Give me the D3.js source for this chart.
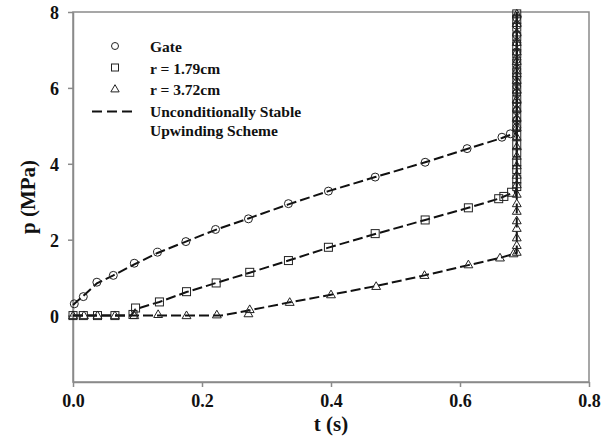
<!DOCTYPE html>
<html>
<head>
<meta charset="utf-8">
<script src="https://cdn.jsdelivr.net/npm/d3@7"></script>
<style>
  body { margin: 0; background: #fff; }
  text { font-family: "Liberation Serif", "Times New Roman", serif; font-weight: bold; fill: #111; }
</style>
</head>
<body>
<div id="chart"></div>
<script>
// measured points, [t (s), p (MPa)]
const gatePts = [[0.002,0.31],[0.016,0.50],[0.037,0.88],[0.0625,1.06],[0.095,1.38],[0.131,1.67],[0.175,1.95],
  [0.221,2.27],[0.272,2.55],[0.334,2.95],[0.396,3.28],[0.4685,3.65],[0.546,4.04],[0.611,4.40],[0.665,4.70],[0.678,4.79],
  [0.688,4.95],[0.688,5.15],[0.688,5.4],[0.688,5.6],[0.688,5.85],[0.688,6.05],[0.688,6.3],[0.688,6.5],[0.688,6.75],
  [0.688,6.95],[0.688,7.2],[0.688,7.4],[0.688,7.65],[0.688,7.85]];
const r179Pts = [[0.0,0.0],[0.016,0.0],[0.038,0.0],[0.065,0.0],[0.093,0.03],[0.097,0.2],[0.134,0.36],[0.176,0.63],
  [0.222,0.86],[0.274,1.14],[0.334,1.45],[0.396,1.8],[0.4685,2.16],[0.546,2.52],[0.613,2.84],[0.66,3.08],[0.668,3.14],[0.68,3.25],
  [0.688,3.4],[0.688,3.6],[0.688,3.85],[0.688,4.05],[0.688,4.3],[0.688,4.5],[0.688,4.75],[0.688,5.0],[0.688,5.25],[0.688,5.5],
  [0.688,5.7],[0.688,5.95],[0.688,6.2],[0.688,6.4],[0.688,6.65],[0.688,6.9],[0.688,7.1],[0.688,7.35],[0.688,7.6],[0.688,7.8],[0.688,7.95]];
const r372Pts = [[0.0,0.0],[0.017,0.0],[0.038,0.0],[0.065,0.0],[0.095,0.0],[0.132,0.03],[0.176,0.0],[0.223,0.02],
  [0.272,0.05],[0.274,0.16],[0.336,0.35],[0.4,0.55],[0.47,0.77],[0.545,1.06],[0.613,1.34],[0.662,1.52],[0.683,1.63],[0.688,1.67],
  [0.688,1.85],[0.688,2.05],[0.688,2.3],[0.688,2.5],[0.688,2.75],[0.688,2.95],[0.688,3.2],[0.688,3.45],[0.688,3.7],[0.688,3.95],
  [0.688,4.2],[0.688,4.45],[0.688,4.7],[0.688,4.95],[0.688,5.2],[0.688,5.45],[0.688,5.7],[0.688,5.95],[0.688,6.2],[0.688,6.45],
  [0.688,6.7],[0.688,6.95],[0.688,7.2],[0.688,7.45],[0.688,7.7],[0.688,7.95]];

// upwinding scheme curves
const gateLine = [[0.0,0.28],[0.016,0.52],[0.037,0.85],[0.0625,1.06],[0.095,1.35],[0.131,1.65],[0.175,1.95],[0.221,2.26],
  [0.272,2.56],[0.334,2.93],[0.396,3.28],[0.4685,3.65],[0.546,4.04],[0.611,4.39],[0.665,4.68],[0.688,4.82],[0.688,8.0]];
const r179Line = [[0.0,0.0],[0.09,0.0],[0.097,0.17],[0.134,0.36],[0.176,0.62],[0.222,0.86],[0.274,1.13],[0.334,1.45],
  [0.396,1.79],[0.4685,2.15],[0.546,2.52],[0.613,2.84],[0.66,3.08],[0.688,3.28],[0.688,8.0]];
const r372Line = [[0.0,0.0],[0.23,0.0],[0.274,0.14],[0.336,0.35],[0.4,0.55],[0.47,0.78],[0.545,1.06],[0.613,1.33],
  [0.662,1.52],[0.688,1.65],[0.688,8.0]];

const xTicks = [0, 0.2, 0.4, 0.6, 0.8];
const yTicks = [0, 2, 4, 6, 8];
const legendLabels = ["Gate", "r = 1.79cm", "r = 3.72cm", "Unconditionally Stable", "Upwinding Scheme"];

const W = 616, H = 447;
const margin = {top: 12, right: 27, bottom: 65, left: 73};

const svg = d3.select("#chart").append("svg")
  .attr("width", W).attr("height", H);

const x = d3.scaleLinear().domain([0, 0.8]).range([margin.left, W - margin.right]);
const y = d3.scaleLinear().domain([-1.75, 8]).range([H - margin.bottom, margin.top]);

// frame
svg.append("rect")
  .attr("x", x(0)).attr("y", y(8))
  .attr("width", x(0.8) - x(0)).attr("height", y(-1.75) - y(8))
  .attr("fill", "none").attr("stroke", "#8a8a8a").attr("stroke-width", 1.5);

// axes
const xAxis = svg.append("g")
  .attr("transform", `translate(0,${y(-1.75)})`)
  .call(d3.axisBottom(x).tickValues(xTicks).tickFormat(d3.format(".1f")).tickSizeInner(5).tickSizeOuter(0).tickPadding(7));
const yAxis = svg.append("g")
  .attr("transform", `translate(${x(0)},0)`)
  .call(d3.axisLeft(y).tickValues(yTicks).tickFormat(d3.format("d")).tickSizeInner(5).tickSizeOuter(0).tickPadding(9));
[xAxis, yAxis].forEach(g => {
  g.select(".domain").attr("stroke", "#8a8a8a").attr("stroke-width", 1.5);
  g.selectAll(".tick line").attr("stroke", "#8a8a8a").attr("stroke-width", 1.5);
  g.selectAll(".tick text").attr("font-size", 18).attr("fill", "#111")
    .attr("font-family", "Liberation Serif, serif").attr("font-weight", "bold");
});
yAxis.selectAll(".tick text").attr("dy", "0.36em");

// axis titles
svg.append("text")
  .attr("x", (x(0) + x(0.8)) / 2).attr("y", 431)
  .attr("text-anchor", "middle").attr("font-size", 21)
  .text("t (s)");
svg.append("text")
  .attr("transform", `translate(35,${(y(8) + y(-1.75)) / 2}) rotate(-90)`)
  .attr("text-anchor", "middle").attr("font-size", 21)
  .text("p (MPa)");

// dashed lines
const line = d3.line().x(d => x(d[0])).y(d => y(d[1]));
[gateLine, r179Line, r372Line].forEach(dat => {
  svg.append("path")
    .attr("d", line(dat))
    .attr("fill", "none").attr("stroke", "#111").attr("stroke-width", 2)
    .attr("stroke-dasharray", "10,4");
});

// markers
const mk = {stroke: "#222", sw: 1};
svg.append("g").selectAll("circle").data(gatePts).join("circle")
  .attr("cx", d => x(d[0])).attr("cy", d => y(d[1])).attr("r", 4)
  .attr("fill", "none").attr("stroke", mk.stroke).attr("stroke-width", mk.sw);
svg.append("g").selectAll("rect").data(r179Pts).join("rect")
  .attr("x", d => x(d[0]) - 4).attr("y", d => y(d[1]) - 4).attr("width", 8).attr("height", 8)
  .attr("fill", "none").attr("stroke", mk.stroke).attr("stroke-width", mk.sw);
const tri = d3.symbol().type(d3.symbolTriangle).size(34);
svg.append("g").selectAll("path").data(r372Pts).join("path")
  .attr("d", tri)
  .attr("transform", d => `translate(${x(d[0])},${y(d[1]) + 0.5})`)
  .attr("fill", "none").attr("stroke", mk.stroke).attr("stroke-width", mk.sw);

// legend
const lg = svg.append("g");
const lgY = [52, 73.5, 95, 116.5, 135.5];
legendLabels.forEach((t, i) => {
  lg.append("text").attr("x", 150).attr("y", lgY[i]).attr("font-size", 15.5).text(t);
});
lg.append("circle").attr("cx", 115).attr("cy", 46).attr("r", 3.5)
  .attr("fill", "none").attr("stroke", "#222").attr("stroke-width", 1);
lg.append("rect").attr("x", 111.5).attr("y", 64).attr("width", 7).attr("height", 7)
  .attr("fill", "none").attr("stroke", "#222").attr("stroke-width", 1);
lg.append("path").attr("d", d3.symbol().type(d3.symbolTriangle).size(30))
  .attr("transform", "translate(115,89.5)")
  .attr("fill", "none").attr("stroke", "#222").attr("stroke-width", 1);
lg.append("line").attr("x1", 92).attr("x2", 134).attr("y1", 111.5).attr("y2", 111.5)
  .attr("stroke", "#111").attr("stroke-width", 2).attr("stroke-dasharray", "10,5");
</script>
</body>
</html>
